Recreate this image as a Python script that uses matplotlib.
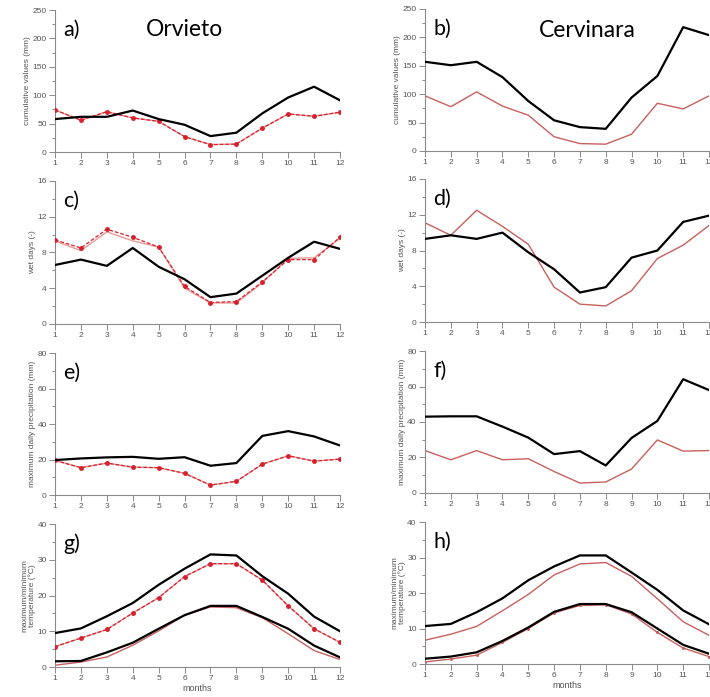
"""Monthly climate indices for Orvieto and Cervinara, observed vs simulated."""
import matplotlib.pyplot as plt
from matplotlib.ticker import AutoMinorLocator

plt.rcParams["font.family"] = ["Liberation Sans", "DejaVu Sans"]

months = list(range(1, 13))

# Orvieto
orv_cum_obs = [58, 62, 62, 73, 58, 48, 28, 34, 68, 96, 115, 91]
orv_cum_sim = [74, 56, 71, 60, 54, 27, 13, 14, 42, 67, 63, 70]
orv_wet_obs = [6.6, 7.2, 6.5, 8.5, 6.4, 5.0, 3.0, 3.4, 5.4, 7.4, 9.2, 8.4]
orv_wet_sim = [9.4, 8.5, 10.6, 9.7, 8.6, 4.2, 2.4, 2.5, 4.7, 7.2, 7.2, 9.7]
orv_wet_sim2 = [9.3, 8.2, 10.3, 9.3, 8.6, 4.0, 2.35, 2.35, 4.6, 7.35, 7.4, 9.6]
orv_max_obs = [19.7, 20.6, 21.2, 21.5, 20.4, 21.3, 16.5, 18.0, 33.3, 36.0, 33.0, 27.9]
orv_max_sim = [19.5, 15.4, 18.0, 15.7, 15.4, 12.2, 5.6, 7.7, 17.4, 22.1, 19.1, 20.2]
orv_tmax_obs = [9.5, 10.8, 14.2, 17.9, 23.0, 27.5, 31.5, 31.2, 25.4, 20.5, 14.1, 10.0]
orv_tmax_sim = [5.7, 8.1, 10.5, 15.1, 19.4, 25.3, 28.9, 28.9, 24.3, 17.1, 10.7, 6.9]
orv_tmin_obs = [1.6, 1.7, 4.1, 6.8, 10.7, 14.5, 17.1, 17.1, 14.0, 10.7, 6.0, 2.7]
orv_tmin_sim = [0.5, 1.4, 2.8, 6.1, 10.1, 14.5, 16.8, 16.6, 13.8, 9.3, 4.6, 2.1]

# Cervinara
cer_cum_obs = [157, 151, 157, 130, 88, 54, 42, 39, 94, 132, 218, 204]
cer_cum_sim = [97, 78, 104, 79, 63, 25, 13, 12, 29.5, 84, 74, 97]
cer_wet_obs = [9.3, 9.7, 9.3, 10.0, 7.8, 5.9, 3.3, 3.9, 7.2, 8.0, 11.2, 11.9]
cer_wet_sim = [11.1, 9.7, 12.5, 10.7, 8.7, 3.9, 2.0, 1.8, 3.5, 7.1, 8.6, 10.8]
cer_max_obs = [43.0, 43.2, 43.2, 37.4, 31.2, 21.9, 23.6, 15.5, 31.0, 40.6, 64.1, 58.0]
cer_max_sim = [23.9, 18.7, 23.9, 18.7, 19.3, 12.1, 5.6, 6.2, 13.5, 29.9, 23.6, 23.9]
cer_tmax_obs = [10.7, 11.3, 14.6, 18.5, 23.6, 27.5, 30.6, 30.6, 25.8, 20.9, 15.1, 11.2]
cer_tmax_sim = [6.7, 8.4, 10.6, 15.0, 19.6, 25.1, 28.2, 28.6, 24.7, 18.4, 11.9, 8.1]
cer_tmin_obs = [1.5, 2.1, 3.3, 6.5, 10.3, 14.7, 16.9, 16.9, 14.6, 10.0, 5.4, 2.9]
cer_tmin_sim = [0.6, 1.4, 2.5, 6.1, 10.0, 14.4, 16.5, 16.7, 14.1, 8.9, 4.5, 2.1]

ylabels = ["cumulative values (mm)", "wet days (-)",
           "maximum daily precipitation (mm)",
           "maximum/minimum\ntemperature (\u00b0C)"]
ylims = [(250, 50), (16, 4), (80, 20), (40, 10)]

GREY = "#8a8a8a"
RED = "#d8202c"
PINK = "#e99a9a"
MUTED = "#c8605e"

fig = plt.figure(figsize=(7.1, 6.97), dpi=100)

left_rects = [[0.0775, 0.7819, 0.4014, 0.2037],
              [0.0775, 0.5352, 0.4014, 0.2052],
              [0.0775, 0.2898, 0.4014, 0.2037],
              [0.0775, 0.0430, 0.4014, 0.2052]]
right_rects = [[0.5986, 0.7834, 0.4000, 0.2037],
               [0.5986, 0.5380, 0.4000, 0.2052],
               [0.5986, 0.2927, 0.4000, 0.2037],
               [0.5986, 0.0473, 0.4000, 0.2037]]


def style(ax, row):
    top, step = ylims[row]
    ax.set_xlim(1, 12)
    ax.set_ylim(0, top)
    ax.set_xticks(months)
    ax.set_yticks(range(0, int(top) + 1, step))
    ax.yaxis.set_minor_locator(AutoMinorLocator(2))
    for s in ["top", "right"]:
        ax.spines[s].set_visible(False)
    for s in ["left", "bottom"]:
        ax.spines[s].set_color(GREY)
        ax.spines[s].set_linewidth(0.8)
    ax.tick_params(which="both", colors=GREY, labelcolor="#555555",
                   labelsize=6, width=0.7, direction="out")
    ax.tick_params(which="major", length=4, pad=2)
    ax.tick_params(which="minor", length=2.5)
    ax.set_ylabel(ylabels[row], fontsize=6, color="#555555", labelpad=1,
                  linespacing=0.95)
    ax.patch.set_alpha(0)
    if row == 3:
        ax.set_xlabel("months", fontsize=6.5, color="#555555", labelpad=1)


def letter(ax, txt):
    ax.text(0.03, 0.86, txt, transform=ax.transAxes, fontsize=15.5,
            family=["Lato", "DejaVu Sans"], va="center", ha="left")


# left column: Orvieto
left_data = [
    (orv_cum_obs, orv_cum_sim, orv_cum_sim),
    (orv_wet_obs, orv_wet_sim, orv_wet_sim2),
    (orv_max_obs, orv_max_sim, orv_max_sim),
]
for row, rect in enumerate(left_rects):
    ax = fig.add_axes(rect)
    style(ax, row)
    letter(ax, "aceg"[row] + ")")
    if row < 3:
        obs, sim, sim2 = left_data[row]
        ax.plot(months, sim2, color=PINK, lw=1.0, zorder=2)
        ax.plot(months, sim, color=RED, lw=0.9, ls=(0, (3, 1.5)),
                marker="o", ms=2.5, zorder=3)
        ax.plot(months, obs, color="black", lw=1.6, zorder=4)
    else:
        ax.plot(months, orv_tmax_sim, color=PINK, lw=1.0, zorder=2)
        ax.plot(months, orv_tmax_sim, color=RED, lw=0.9, ls=(0, (3, 1.5)),
                marker="o", ms=2.5, zorder=3)
        ax.plot(months, orv_tmin_sim, color=MUTED, lw=1.0, zorder=2)
        ax.plot(months, orv_tmax_obs, color="black", lw=1.6, zorder=4)
        ax.plot(months, orv_tmin_obs, color="black", lw=1.6, zorder=4)
    if row == 0:
        ax.text(0.456, 0.86, "Orvieto", transform=ax.transAxes, fontsize=16.5,
                family=["Lato", "DejaVu Sans"], va="center", ha="center")

# right column: Cervinara
right_data = [
    (cer_cum_obs, cer_cum_sim),
    (cer_wet_obs, cer_wet_sim),
    (cer_max_obs, cer_max_sim),
]
for row, rect in enumerate(right_rects):
    ax = fig.add_axes(rect)
    style(ax, row)
    letter(ax, "bdfh"[row] + ")")
    if row < 3:
        obs, sim = right_data[row]
        ax.plot(months, sim, color=MUTED, lw=1.0, zorder=2)
        ax.plot(months, obs, color="black", lw=1.6, zorder=3)
    else:
        ax.plot(months, cer_tmax_sim, color=MUTED, lw=1.0, zorder=2)
        ax.plot(months, cer_tmin_sim, color=MUTED, lw=1.0, marker="o",
                ms=1.2, zorder=2)
        ax.plot(months, cer_tmax_obs, color="black", lw=1.6, zorder=3)
        ax.plot(months, cer_tmin_obs, color="black", lw=1.6, zorder=3)
    if row == 0:
        ax.text(0.57, 0.85, "Cervinara", transform=ax.transAxes, fontsize=16.5,
                family=["Lato", "DejaVu Sans"], va="center", ha="center")

fig.savefig("out.png", dpi=100)
